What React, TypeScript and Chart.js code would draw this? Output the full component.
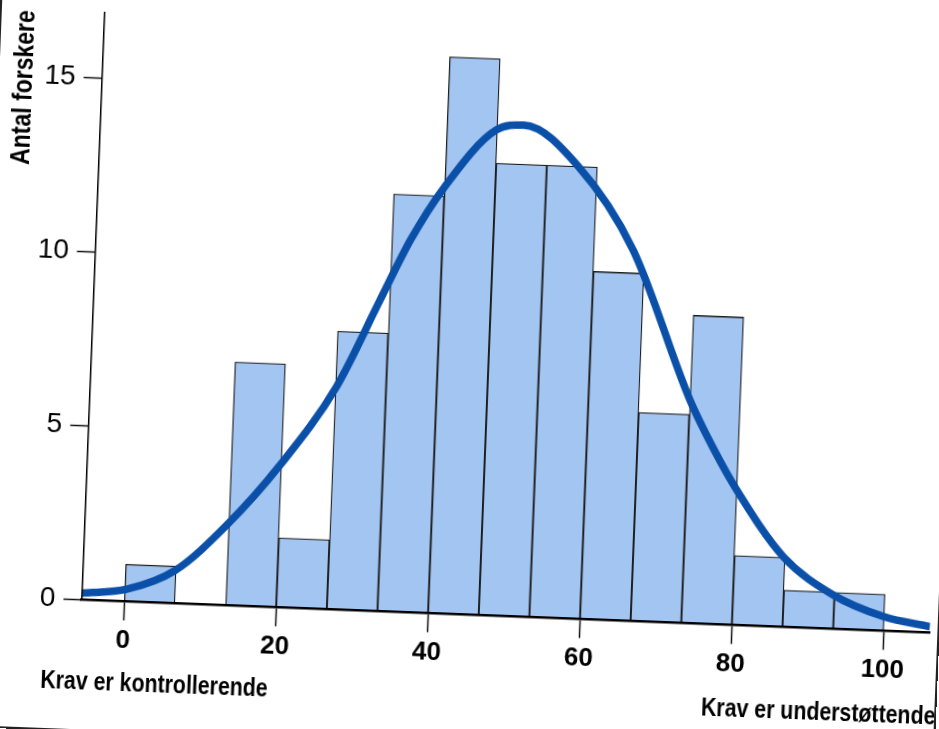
import React, { useEffect, useRef } from "react";
import { Chart, registerables } from "chart.js";

Chart.register(...registerables);

// ---- data ----
const binEdges = [0, 6.667, 13.333, 20, 26.667, 33.333, 40, 46.667, 53.333, 60, 66.667, 73.333, 80, 86.667, 93.333, 100];
const counts = [1.07, 0, 7, 2, 8, 12, 16, 13, 13, 10, 6, 8.85, 2, 1.06, 1.05];
const curveX = [-5.64, 0.25, 6.5, 13.1, 19.8, 26.8, 32.1, 35.8, 40.0, 46.5, 50.1, 57.5, 65.1, 73.35, 76.8, 79.95, 86.4, 93.2, 99.9, 106.06];
const curveY = [0.19, 0.35, 0.94, 2.31, 4.09, 6.4, 8.94, 10.7, 12.26, 13.95, 14.12, 12.99, 10.66, 6.41, 5.0, 3.88, 2.02, 0.97, 0.41, 0.17];
const xTicks = [0, 20, 40, 60, 80, 100];
const yTicks = [0, 5, 10, 15];
const yTitle = "Antal forskere";
const xLabelLeft = "Krav er kontrollerende";
const xLabelRight = "Krav er understøttende";
const xMin = -5.64;
const xMax = 106.06;
const yMax = 16.9;

// ---- layout / style ----
const W = 1019;
const H = 809;
const OFF = 40;
const SANS = '"Liberation Sans", Arial, sans-serif';
const NARROW_SCALE = 0.82;
const BAR_FILL = "#A3C5F1";
const BAR_EDGE = "#1c1c1c";
const CURVE = "#0B50A8";

function narrowText(ctx: any, text: string, x: number, y: number) {
  ctx.save();
  ctx.translate(x, y);
  ctx.scale(NARROW_SCALE, 1);
  ctx.fillText(text, 0, 0);
  ctx.restore();
}

const labelsPlugin = {
  id: "extraLabels",
  afterDraw(chart: any) {
    const { ctx, chartArea } = chart;
    ctx.save();
    ctx.fillStyle = "#000";
    ctx.font = `bold 28px ${SANS}`;
    ctx.translate(chartArea.left - 77.3, chartArea.top + 78.5);
    ctx.rotate(-Math.PI / 2);
    ctx.textAlign = "center";
    ctx.textBaseline = "middle";
    narrowText(ctx, yTitle, 0, 0);
    ctx.restore();

    ctx.save();
    ctx.fillStyle = "#000";
    ctx.font = `bold 26px ${SANS}`;
    ctx.textAlign = "left";
    ctx.textBaseline = "alphabetic";
    narrowText(ctx, xLabelLeft, chartArea.left - 38, chartArea.bottom + 89.8);
    narrowText(ctx, xLabelRight, chartArea.right - 225.7, chartArea.bottom + 91.2);
    ctx.restore();
  },
};

export default function App() {
  const ref = useRef<HTMLCanvasElement | null>(null);

  useEffect(() => {
    if (!ref.current) return;
    const centers = counts.map((_, i) => (binEdges[i] + binEdges[i + 1]) / 2);
    const chart = new Chart(ref.current, {
      type: "bar",
      data: {
        datasets: [
          {
            type: "line",
            data: curveX.map((x, i) => ({ x, y: curveY[i] })),
            borderColor: CURVE,
            borderWidth: 7.5,
            pointRadius: 0,
            cubicInterpolationMode: "monotone",
            fill: false,
            order: 0,
          } as any,
          {
            type: "bar",
            data: centers.map((x, i) => ({ x, y: counts[i] })),
            backgroundColor: BAR_FILL,
            borderColor: BAR_EDGE,
            borderWidth: 1.3,
            borderSkipped: false,
            barPercentage: 1,
            categoryPercentage: 1,
            grouped: false,
            order: 1,
          } as any,
        ],
      },
      options: {
        responsive: false,
        maintainAspectRatio: false,
        animation: false,
        events: [],
        layout: { padding: { left: 0, top: 53.3, right: 48.6, bottom: 0 } },
        plugins: { legend: { display: false }, tooltip: { enabled: false }, title: { display: false } },
        scales: {
          x: {
            type: "linear",
            min: xMin,
            max: xMax,
            offset: false,
            afterBuildTicks: (s: any) => {
              s.ticks = xTicks.map((v) => ({ value: v }));
            },
            afterFit: (s: any) => {
              s.height = 167.6;
            },
            ticks: {
              color: "#000",
              padding: 5,
              maxRotation: 0,
              autoSkip: false,
              font: { family: SANS, size: 26, weight: "bold" },
            },
            grid: {
              display: true,
              offset: false,
              drawOnChartArea: false,
              drawTicks: true,
              tickLength: 19,
              tickColor: "#111",
              tickWidth: 1.5,
            },
            border: { display: true, color: "#000", width: 2.5, z: 1 },
          },
          y: {
            type: "linear",
            min: 0,
            max: yMax,
            afterBuildTicks: (s: any) => {
              s.ticks = yTicks.map((v) => ({ value: v }));
            },
            afterFit: (s: any) => {
              s.width = 121.4;
            },
            ticks: {
              color: "#000",
              padding: 8,
              font: { family: SANS, size: 28, weight: "normal" },
            },
            grid: {
              display: true,
              drawOnChartArea: false,
              drawTicks: true,
              tickLength: 18,
              tickColor: "#111",
              tickWidth: 1.5,
            },
            border: { display: true, color: "#000", width: 1.5, z: 1 },
          },
        },
      } as any,
      plugins: [labelsPlugin],
    });
    return () => chart.destroy();
  }, []);

  return (
    <div
      style={{
        position: "fixed",
        left: 0,
        top: 0,
        width: 939,
        height: 729,
        overflow: "hidden",
        background: "#fff",
      }}
    >
      <div
        style={{
          position: "absolute",
          left: -OFF,
          top: -OFF,
          width: W,
          height: H,
          transform: "rotate(2.222deg)",
          transformOrigin: "164.3px 641.4px",
        }}
      >
        <canvas ref={ref} width={W} height={H} style={{ display: "block", width: W, height: H }} />
        <div
          style={{
            position: "absolute",
            left: 17,
            top: -100,
            width: 963,
            height: 873,
            boxSizing: "border-box",
            borderLeft: "2px solid #222",
            borderRight: "2px solid #222",
            borderBottom: "2px solid #222",
            pointerEvents: "none",
          }}
        />
      </div>
    </div>
  );
}
